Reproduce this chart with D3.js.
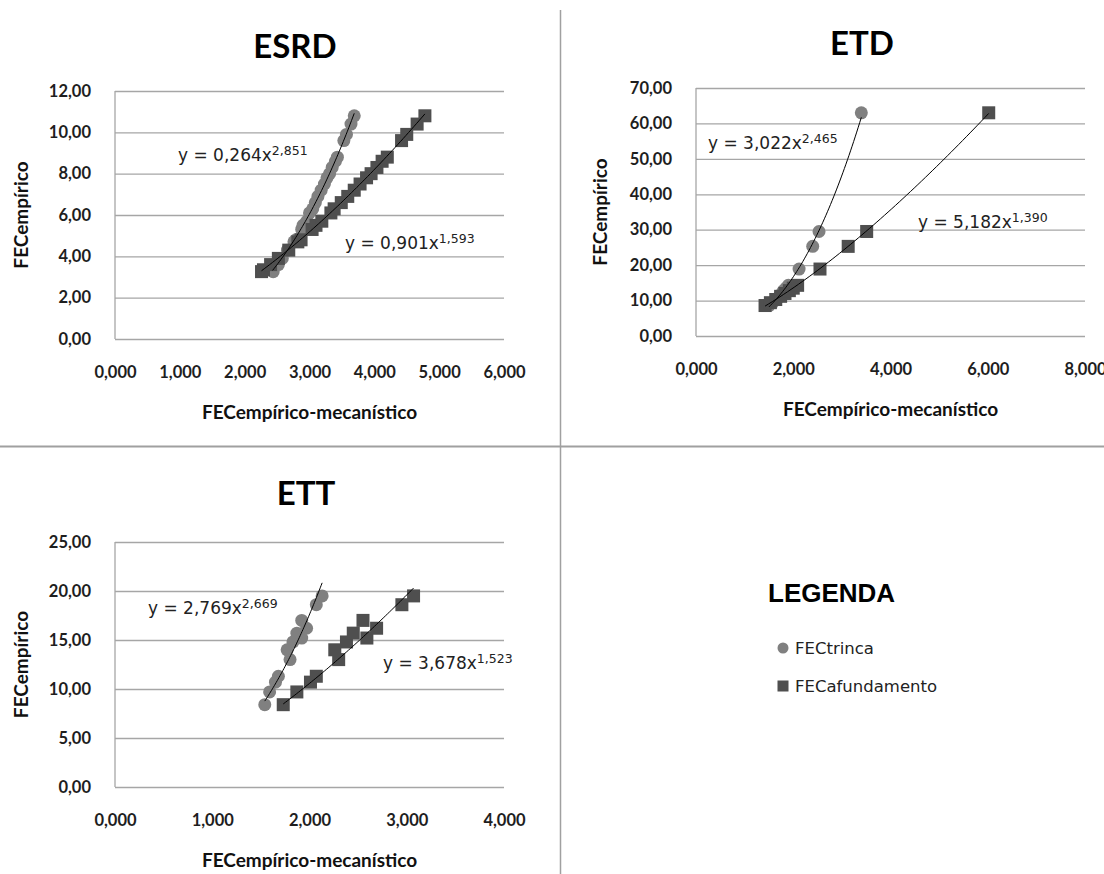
<!doctype html>
<html lang="pt">
<head>
<meta charset="utf-8">
<script src="https://d3js.org/d3.v7.min.js"></script>
<title>FEC empírico x FEC empírico-mecanístico</title>
<style>
  body { margin: 0; background: #fff; }
  svg { display: block; }
  .tick-label { font: bold 16.5px Lato, sans-serif; fill: #1e1e1e; }
  .axis-title { font: bold 19px Lato, sans-serif; fill: #111; }
  .chart-title { font: bold 33px Lato, sans-serif; fill: #000; }
  .eq { font: 17px "DejaVu Sans", sans-serif; fill: #222; }
  .eq .sup { font-size: 12.5px; }
  .trend { fill: none; stroke: #000; stroke-width: 1px; }
  .trinca { fill: #808080; }
  .afund { fill: #4f4f4f; }
  .legend-title { font: bold 26px "Liberation Sans", Arial, sans-serif; fill: #000; }
  .legend-label { font: 16.5px "DejaVu Sans", sans-serif; fill: #222; }
</style>
</head>
<body>
<svg width="1104" height="874"></svg>
<script>
// ESRD
const esrdY      = [3.26, 3.35, 3.6, 3.9, 4.3, 4.7, 4.8, 5.3, 5.5, 5.7, 6.1, 6.3, 6.6, 6.9, 7.2, 7.5, 7.8, 8.0, 8.3, 8.6, 8.8, 9.6, 9.9, 10.4, 10.8];
const esrdTrinca = [2.44, 2.43, 2.52, 2.58, 2.66, 2.76, 2.79, 2.88, 2.90, 2.96, 3.00, 3.05, 3.09, 3.13, 3.18, 3.23, 3.27, 3.31, 3.35, 3.40, 3.43, 3.53, 3.57, 3.64, 3.69];
const esrdAfund  = [2.26, 2.29, 2.40, 2.52, 2.68, 2.82, 2.87, 3.04, 3.10, 3.19, 3.33, 3.38, 3.49, 3.59, 3.69, 3.78, 3.88, 3.95, 4.04, 4.12, 4.20, 4.42, 4.50, 4.66, 4.78];
const esrdFit    = [[0.264, 2.851], [0.901, 1.593]];

// ETD
const etdY      = [8.6, 9.4, 10.3, 11.2, 12.0, 12.8, 13.5, 14.3, 18.9, 25.3, 29.5, 63.0];
const etdTrinca = [1.50, 1.58, 1.66, 1.71, 1.76, 1.80, 1.85, 1.90, 2.12, 2.40, 2.53, 3.40];
const etdAfund  = [1.42, 1.53, 1.64, 1.74, 1.83, 1.92, 2.00, 2.09, 2.55, 3.13, 3.51, 6.02];
const etdFit    = [[3.022, 2.465], [5.182, 1.390]];

// ETT
const ettY      = [8.4, 9.7, 10.7, 11.3, 13.0, 14.0, 14.8, 15.2, 15.7, 16.2, 17.0, 18.6, 19.5];
const ettTrinca = [1.54, 1.59, 1.65, 1.68, 1.80, 1.77, 1.83, 1.92, 1.87, 1.97, 1.92, 2.07, 2.13];
const ettAfund  = [1.73, 1.87, 2.01, 2.07, 2.30, 2.26, 2.38, 2.59, 2.45, 2.69, 2.55, 2.95, 3.07];
const ettFit    = [[2.769, 2.669], [3.678, 1.523]];

// axis ticks
const esrdXTicks = [0, 1, 2, 3, 4, 5, 6];
const esrdYTicks = [0, 2, 4, 6, 8, 10, 12];
const etdXTicks  = [0, 2, 4, 6, 8];
const etdYTicks  = [0, 10, 20, 30, 40, 50, 60, 70];
const ettXTicks  = [0, 1, 2, 3, 4];
const ettYTicks  = [0, 5, 10, 15, 20, 25];

const seriesNames = ["FECtrinca", "FECafundamento"];
const xTitle = "FECempírico-mecanístico";
const yTitle = "FECempírico";

const locale = d3.formatLocale({ decimal: ",", thousands: ".", grouping: [3], currency: ["", ""] });
const fmt2 = locale.format(".2f");
const fmt3 = locale.format(".3f");
const fmtCoef = locale.format(".3f");

const svg = d3.select("svg");

// separators between the panels
svg.append("line").attr("x1", 560.5).attr("x2", 560.5).attr("y1", 10).attr("y2", 874)
  .attr("stroke", "#a0a0a0").attr("stroke-width", 1.5);
svg.append("line").attr("x1", 0).attr("x2", 1104).attr("y1", 446.5).attr("y2", 446.5)
  .attr("stroke", "#a0a0a0").attr("stroke-width", 2);

function drawPanel(cfg) {
  const x = d3.scaleLinear().domain(d3.extent(cfg.xTicks)).range([cfg.left, cfg.right]);
  const y = d3.scaleLinear().domain(d3.extent(cfg.yTicks)).range([cfg.bottom, cfg.top]);
  const g = svg.append("g");

  // gridlines + y labels
  g.append("g")
    .attr("transform", `translate(${cfg.left},0)`)
    .call(d3.axisLeft(y).tickValues(cfg.yTicks).tickSize(-(cfg.right - cfg.left)).tickPadding(24).tickFormat(fmt2))
    .call(a => a.select(".domain").remove())
    .call(a => a.selectAll("line").attr("stroke", "#a6a6a6").attr("stroke-width", 1.3))
    .call(a => a.selectAll("text").attr("class", "tick-label"));

  g.append("line")
    .attr("x1", cfg.left).attr("x2", cfg.left)
    .attr("y1", y.range()[0]).attr("y2", y.range()[1])
    .attr("stroke", "#a6a6a6").attr("stroke-width", 1.3);

  // x labels
  g.append("g")
    .attr("transform", `translate(0,${cfg.bottom})`)
    .call(d3.axisBottom(x).tickValues(cfg.xTicks).tickSize(0).tickPadding(27).tickFormat(fmt3))
    .call(a => a.select(".domain").remove())
    .call(a => a.selectAll("text").attr("class", "tick-label"));

  // titles
  g.append("text").attr("class", "chart-title")
    .attr("x", cfg.titleX).attr("y", cfg.titleY).attr("text-anchor", "middle").text(cfg.name);
  g.append("text").attr("class", "axis-title")
    .attr("x", (cfg.left + cfg.right) / 2).attr("y", cfg.bottom + 80).attr("text-anchor", "middle").text(xTitle);
  g.append("text").attr("class", "axis-title")
    .attr("transform", `translate(${cfg.yTitleX},${(cfg.top + cfg.bottom) / 2}) rotate(-90)`)
    .attr("text-anchor", "middle").text(yTitle);

  const trinca = cfg.yVals.map((v, i) => [cfg.trinca[i], v]);
  const afund = cfg.yVals.map((v, i) => [cfg.afund[i], v]);

  g.append("g").selectAll("circle").data(trinca).join("circle")
    .attr("class", "trinca")
    .attr("cx", d => x(d[0])).attr("cy", d => y(d[1])).attr("r", 6.5);

  g.append("g").selectAll("rect").data(afund).join("rect")
    .attr("class", "afund")
    .attr("x", d => x(d[0]) - 6.5).attr("y", d => y(d[1]) - 6.5)
    .attr("width", 13).attr("height", 13);

  // power trendlines y = a x^b over each series range
  const line = d3.line().x(d => x(d[0])).y(d => y(d[1]));
  [cfg.trinca, cfg.afund].forEach((xs, k) => {
    const [a, b] = cfg.fit[k];
    const [x0, x1] = d3.extent(xs);
    const pts = d3.range(0, 61).map(i => {
      const xv = x0 + (x1 - x0) * i / 60;
      return [xv, a * Math.pow(xv, b)];
    });
    g.append("path").attr("class", "trend").attr("d", line(pts));

    const t = g.append("text").attr("class", "eq")
      .attr("x", cfg.eqPos[k][0]).attr("y", cfg.eqPos[k][1]);
    t.append("tspan").text(`y = ${fmtCoef(a)}x`);
    t.append("tspan").attr("class", "sup").attr("dy", -6).text(fmtCoef(b));
  });
}

drawPanel({
  name: "ESRD", xTicks: esrdXTicks, yTicks: esrdYTicks,
  yVals: esrdY, trinca: esrdTrinca, afund: esrdAfund, fit: esrdFit,
  left: 115, right: 504, top: 91, bottom: 339,
  titleX: 295, titleY: 58, yTitleX: 28,
  eqPos: [[178, 161], [345, 249]]
});

drawPanel({
  name: "ETD", xTicks: etdXTicks, yTicks: etdYTicks,
  yVals: etdY, trinca: etdTrinca, afund: etdAfund, fit: etdFit,
  left: 696, right: 1085, top: 88, bottom: 336,
  titleX: 862, titleY: 55, yTitleX: 607,
  eqPos: [[708, 149], [918, 228]]
});

drawPanel({
  name: "ETT", xTicks: ettXTicks, yTicks: ettYTicks,
  yVals: ettY, trinca: ettTrinca, afund: ettAfund, fit: ettFit,
  left: 115, right: 504, top: 542, bottom: 787,
  titleX: 306, titleY: 505, yTitleX: 28,
  eqPos: [[148, 614], [383, 669]]
});

// legend
const legend = svg.append("g");
legend.append("text").attr("class", "legend-title").attr("x", 768).attr("y", 602).text("LEGENDA");
legend.append("circle").attr("class", "trinca").attr("cx", 783).attr("cy", 648).attr("r", 5.5);
legend.append("rect").attr("class", "afund").attr("x", 777.5).attr("y", 680.5).attr("width", 11).attr("height", 11);
legend.selectAll("text.legend-label").data(seriesNames).join("text")
  .attr("class", "legend-label")
  .attr("x", 795).attr("y", (d, i) => 654 + i * 38)
  .text(d => d);
</script>
</body>
</html>
